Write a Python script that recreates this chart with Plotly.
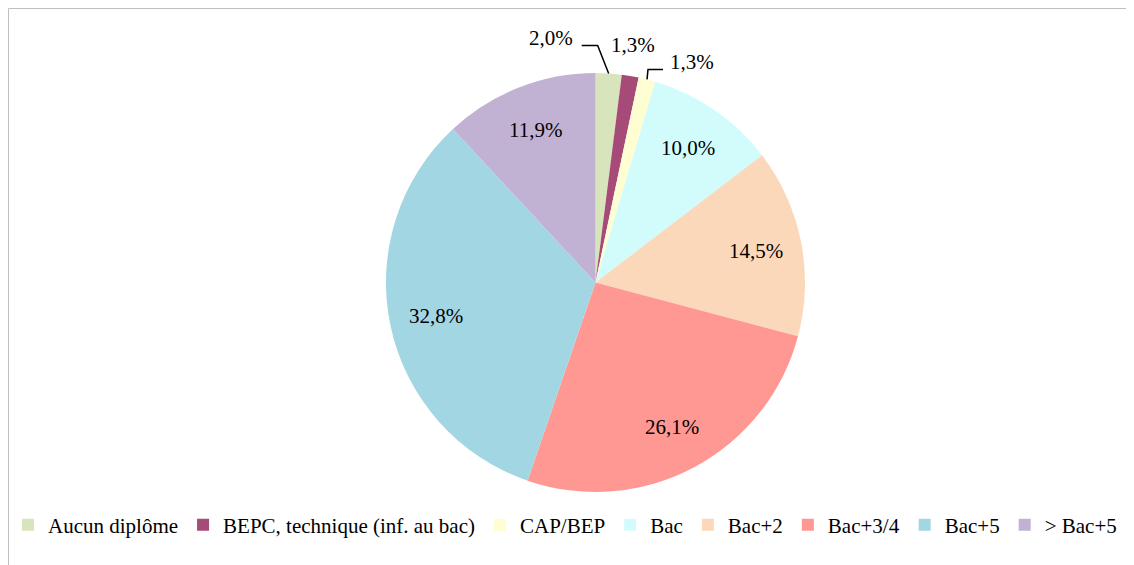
import math
import plotly.graph_objects as go

## Diplômes

categories = ["Aucun diplôme", "BEPC, technique (inf. au bac)", "CAP/BEP", "Bac",
              "Bac+2", "Bac+3/4", "Bac+5", "> Bac+5"]
parts = [2.0, 1.3, 1.3, 10.0, 14.5, 26.1, 32.8, 11.9]
couleurs = ["#d8e4bc", "#a64a78", "#fefed2", "#d2fcfc",
            "#fcd8bb", "#ff9793", "#a3d6e3", "#c1b2d3"]

# placement des étiquettes (px) : None = à l'intérieur, sinon décalage depuis le bord
decalages = [(-58, -35), (3, -31), (45, -17), None, None, None, None, None]
# lignes de rappel : coudes relatifs au bord de la part
rappels = [[(-11, -28), (-27, -28)], None, [(1, -10), (16, -10)], None, None, None, None, None]

W, H = 1126, 557
police = "Liberation Serif, Times New Roman, serif"

# domaine du camembert en pixels
x0, x1, y_haut, y_bas = 378, 797, 65, 484
cx, cy = (x0 + x1) / 2, (y_haut + y_bas) / 2
r = min(x1 - x0, y_bas - y_haut) / 2


def px(x, y):
    return x / W, 1 - y / H


fig = go.Figure(go.Pie(
    labels=categories,
    values=parts,
    sort=False,
    direction="clockwise",
    rotation=0,
    marker=dict(colors=couleurs, line=dict(width=0)),
    textinfo="none",
    hoverinfo="label+percent",
    domain=dict(x=[x0 / W, x1 / W], y=[1 - y_bas / H, 1 - y_haut / H]),
))

annotations = []
shapes = []
total = sum(parts)
cumul = 0
for i, v in enumerate(parts):
    a = (cumul + v / 2) / total * 2 * math.pi
    cumul += v
    texte = f"{v:.1f}%".replace(".", ",")
    if decalages[i] is None:
        rho = 0.78 * r
        tx, ty = cx + rho * math.sin(a), cy - rho * math.cos(a)
    else:
        bx, by = cx + r * math.sin(a), cy - r * math.cos(a)
        tx, ty = bx + decalages[i][0], by + decalages[i][1]
        if rappels[i]:
            pts = [(bx, by)] + [(bx + dx, by + dy) for dx, dy in rappels[i]]
            path = "M " + " L ".join(f"{p[0] / W},{1 - p[1] / H}" for p in pts)
            shapes.append(dict(type="path", xref="paper", yref="paper", path=path,
                               line=dict(color="black", width=1.5)))
    ax, ay = px(tx, ty)
    annotations.append(dict(x=ax, y=ay, xref="paper", yref="paper", text=texte,
                            showarrow=False, xanchor="center", yanchor="middle",
                            font=dict(family=police, size=21, color="black")))

shapes.append(dict(type="rect", xref="paper", yref="paper",
                   x0=0.5 / W, x1=1.05, y0=-0.05, y1=1 - 0.5 / H,
                   line=dict(color="#bfbfbf", width=1)))

fig.update_layout(
    width=W, height=H,
    margin=dict(l=0, r=0, t=0, b=0),
    paper_bgcolor="white",
    font=dict(family=police, size=21, color="black"),
    legend=dict(orientation="h", x=0.4935, xanchor="center", y=1 - 517 / H, yanchor="middle",
                bgcolor="rgba(0,0,0,0)",
                font=dict(family=police, size=21, color="black"), itemwidth=30, tracegroupgap=0),
    annotations=annotations,
    shapes=shapes,
)

fig.write_html("out.html")
